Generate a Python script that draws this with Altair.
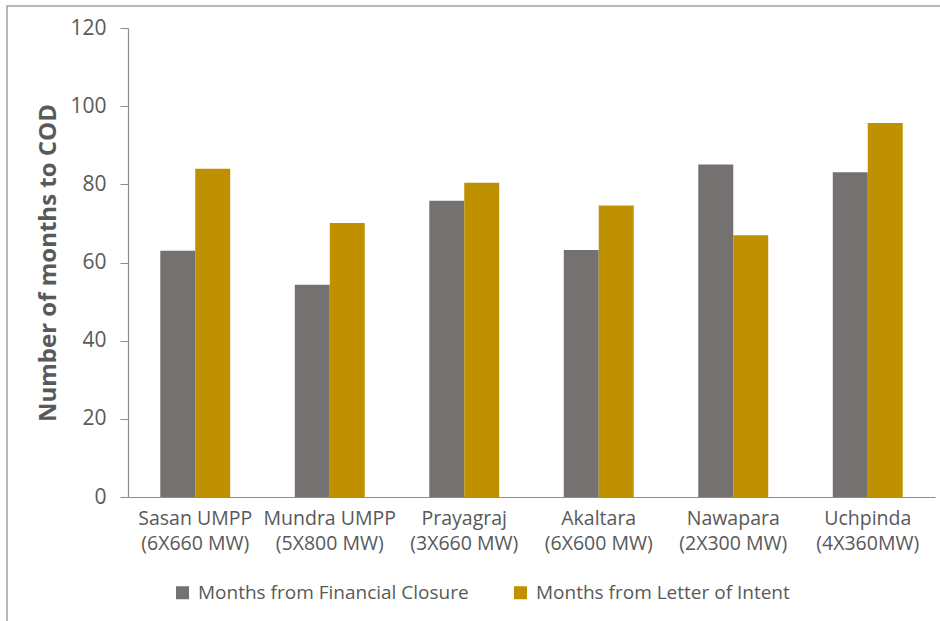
import altair as alt
import pandas as pd

categories = [
    "Sasan UMPP\n(6X660 MW)",
    "Mundra UMPP\n(5X800 MW)",
    "Prayagraj\n(3X660 MW)",
    "Akaltara\n(6X600 MW)",
    "Nawapara\n(2X300 MW)",
    "Uchpinda\n(4X360MW)",
]
series = ["Months from Financial Closure", "Months from Letter of Intent"]
financial_closure = [63.0, 54.3, 75.8, 63.2, 85.1, 83.1]
letter_of_intent = [84.0, 70.1, 80.4, 74.6, 67.0, 95.7]
colors = ["#767171", "#BF9000"]

rows = []
for c, a, b in zip(categories, financial_closure, letter_of_intent):
    rows.append({"project": c, "series": series[0], "months": a})
    rows.append({"project": c, "series": series[1], "months": b})
df = pd.DataFrame(rows)

W, H = 807, 469
font = "Open Sans"
txt = "#595959"

bars = alt.Chart(df).mark_bar().encode(
    x=alt.X(
        "project:N",
        sort=categories,
        scale=alt.Scale(paddingInner=0.48, paddingOuter=0.24),
        axis=alt.Axis(
            title=None,
            labelAngle=0,
            ticks=False,
            labelExpr="split(datum.label, '\\n')",
            labelFont=font,
            labelFontSize=19.5,
            labelColor=txt,
            labelLineHeight=25,
            labelPadding=12,
            labelBaseline="top",
            labelLimit=0,
            domainColor="#8c8c8c",
            domainWidth=1.2,
        ),
    ),
    xOffset=alt.XOffset("series:N", sort=series),
    y=alt.Y(
        "months:Q",
        scale=alt.Scale(domain=[0, 120], nice=False),
        axis=alt.Axis(
            title="Number of months to COD",
            values=[0, 20, 40, 60, 80, 100, 120],
            grid=False,
            tickSize=8,
            tickColor="#8c8c8c",
            domainColor="#8c8c8c",
            domainWidth=1.2,
            labelFont=font,
            labelFontSize=21,
            labelColor=txt,
            labelPadding=14,
            titleFont=font,
            titleFontSize=24,
            titleFontWeight="bold",
            titleColor=txt,
            titlePadding=9,
        ),
    ),
    color=alt.Color(
        "series:N",
        sort=series,
        scale=alt.Scale(domain=series, range=colors),
        legend=alt.Legend(
            title=None,
            orient="none",
            direction="horizontal",
            legendX=45,
            legendY=555,
            symbolType="square",
            symbolSize=169,
            symbolStrokeWidth=0,
            labelFont=font,
            labelFontSize=19,
            labelColor=txt,
            labelOffset=6,
            labelLimit=0,
            columnPadding=42,
        ),
    ),
)

frame = alt.Chart(pd.DataFrame({"a": [0]})).mark_rect(
    fill=None, stroke="#a0a0a0", strokeWidth=1.5
).encode(
    x=alt.value(-121), x2=alt.value(W + 30),
    y=alt.value(-22), y2=alt.value(H + 140),
)

chart = alt.layer(frame, bars).properties(
    width=W, height=H,
    padding={"left": 128, "top": 28, "right": 5, "bottom": 124},
    autosize=alt.AutoSizeParams(type="none"),
    background="white",
).configure_view(stroke=None)

chart.save("out.html", embed_options={"renderer": "svg", "actions": False})
